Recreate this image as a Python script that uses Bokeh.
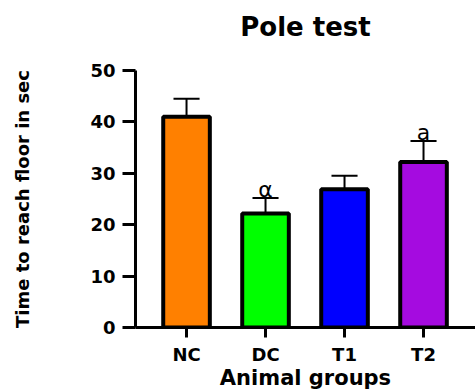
from bokeh.plotting import figure
from bokeh.models import ColumnDataSource, FixedTicker, Range1d, Title
from bokeh.core.properties import value
from bokeh.embed import file_html
from bokeh.resources import INLINE

title_text = "Pole test"
groups = ["NC", "DC", "T1", "T2"]
means = [41.0, 22.2, 26.9, 32.2]
errors = [3.5, 3.0, 2.6, 4.1]
colors = ["#FF8000", "#00FF00", "#0000FF", "#A50BE0"]
marks = ["", "α", "", "a"]
y_ticks = [0, 10, 20, 30, 40, 50]

xs = list(range(1, len(groups) + 1))
tops = [m + e for m, e in zip(means, errors)]

src = ColumnDataSource(dict(x=xs, top=means, err_top=tops, color=colors,
                            cap_l=[x - 0.165 for x in xs], cap_r=[x + 0.165 for x in xs],
                            mark=marks))

FONT = "DejaVu Sans"

p = figure(width=475, height=392, output_backend="svg", toolbar_location=None,
           x_range=Range1d(0.354, 4.658), y_range=Range1d(0, 50),
           min_border_left=135, min_border_right=0, min_border_top=70, min_border_bottom=65,
           title_location=None)
p.outline_line_color = None
p.grid.visible = False

# spacer (nearest the frame) then the real title above it
p.add_layout(Title(text=" ", text_font_size="1px", standoff=26), "above")
p.add_layout(Title(text=title_text, align="center", standoff=0, text_font=FONT,
                   text_font_size="26px", text_font_style="bold", text_color="black"), "above")

# error bars (upper only)
p.segment(x0="x", y0="top", x1="x", y1="err_top", source=src, line_color="black", line_width=2)
p.segment(x0="cap_l", y0="err_top", x1="cap_r", y1="err_top", source=src, line_color="black", line_width=2)

p.vbar(x="x", top="top", bottom=0, width=0.59, source=src, fill_color="color",
       line_color="black", line_width=4)

p.text(x="x", y="err_top", text="mark", source=src, text_align="center",
       text_baseline="bottom", y_offset=4, text_font=value(FONT),
       text_font_size="22px", text_color="black")

for ax in (p.xaxis, p.yaxis):
    ax.axis_line_width = 3
    ax.major_tick_line_width = 3
    ax.minor_tick_line_color = None
    ax.major_tick_in = 0
    ax.major_label_text_font = FONT
    ax.major_label_text_font_style = "bold"
    ax.major_label_text_font_size = "18px"
    ax.major_label_text_color = "black"
    ax.axis_label_text_font = FONT
    ax.axis_label_text_font_style = "bold"
    ax.axis_label_text_color = "black"

p.xaxis.ticker = FixedTicker(ticks=xs)
p.xaxis.major_label_overrides = {x: g for x, g in zip(xs, groups)}
p.xaxis.major_tick_out = 10
p.xaxis.major_label_standoff = 6
p.xaxis.axis_label = "Animal groups"
p.xaxis.axis_label_text_font_size = "21px"
p.xaxis.axis_label_standoff = -2

p.yaxis.ticker = FixedTicker(ticks=y_ticks)
p.yaxis.major_tick_out = 13
p.yaxis.major_label_standoff = 7
p.yaxis.axis_label = "Time to reach floor in sec"
p.yaxis.axis_label_text_font_size = "18px"
p.yaxis.axis_label_standoff = 54

open("out.html", "w").write(file_html(p, INLINE))
